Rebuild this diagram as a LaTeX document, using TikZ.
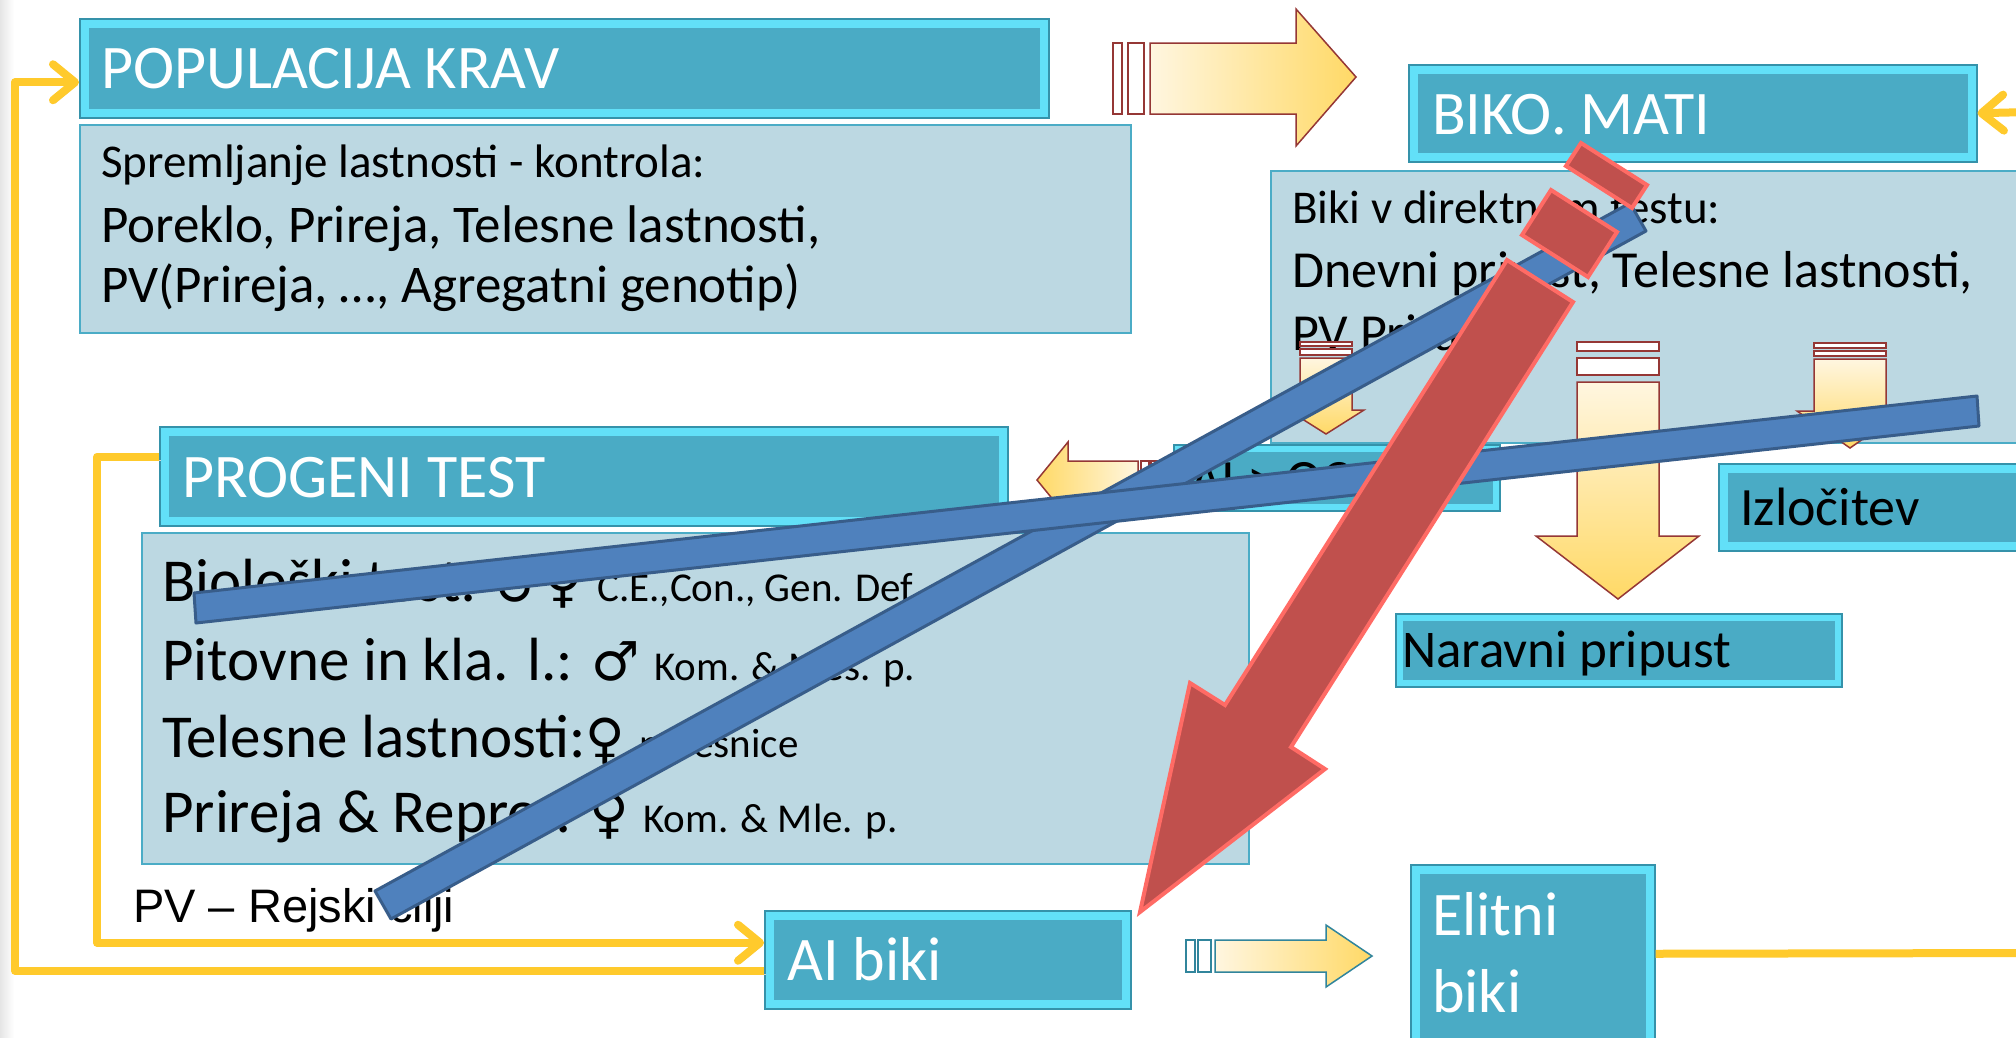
\documentclass[tikz,border=0pt]{standalone}
\usepackage{fontspec}
\setmainfont{Carlito}
\newfontfamily\symfont{DejaVu Sans}
\newfontfamily\arialfont{Liberation Sans}
\usetikzlibrary{arrows.meta}

\definecolor{hdrfill}{HTML}{4AABC5}
\definecolor{hdrrim}{HTML}{62E0F8}
\definecolor{hdrline}{HTML}{3592AA}
\definecolor{bodyfill}{HTML}{BCD8E2}
\definecolor{bodyline}{HTML}{4BACC6}
\definecolor{yelL}{HTML}{FFF6E0}
\definecolor{yelD}{HTML}{FFD966}
\definecolor{arrline}{HTML}{953735}
\definecolor{tealline}{HTML}{31859C}
\definecolor{barfill}{HTML}{4F81BD}
\definecolor{barline}{HTML}{385D8A}
\definecolor{redfill}{HTML}{C0504D}
\definecolor{redrim}{HTML}{FF6B65}
\definecolor{connyel}{HTML}{FFCA2C}

\tikzset{
  hdr/.style={rectangle, anchor=north west, inner sep=0pt, draw=hdrline, line width=1.5pt, fill=hdrrim,
    path picture={\fill[hdrfill] ([shift={(#1,#1)}]path picture bounding box.north west) rectangle ([shift={(-#1,-#1)}]path picture bounding box.south east);}},
  hdr/.default=9,
  body/.style={rectangle, anchor=north west, inner sep=0pt, draw=bodyline, line width=2pt, fill=bodyfill},
  wtxt/.style={anchor=base west, inner sep=0pt, text=white, font=\fontsize{62}{72}\selectfont},
  btxt/.style={anchor=base west, inner sep=0pt, text=black, font=\fontsize{#1}{#1}\selectfont},
  conn/.style={draw=connyel, line width=8pt, line join=round, -{Straight Barb[length=22pt,width=36pt,round]},
    preaction={draw=black!18, transform canvas={shift={(2pt,-3pt)}}}},
  stripe/.style={fill=white, draw=#1, line width=1.5pt},
  stripe/.default=arrline,
  blockarr/.style={draw=#1, line width=1.5pt, line join=miter},
  blockarr/.default=arrline,
  bar/.style={fill=barfill, draw=barline, line width=3pt, line join=round},
  redarr/.style={fill=redfill, draw=redrim, line width=4pt, line join=miter},
}
\newcommand{\smallsz}{\fontsize{41}{41}\selectfont}
\newcommand{\symsz}{\symfont\fontsize{54}{54}\selectfont}

\begin{document}
\begin{tikzpicture}[x=1pt,y=-1pt]
  \useasboundingbox (0,0) rectangle (2016,1037);
  \clip (0,0) rectangle (2016,1037);
  \fill[white] (0,0) rectangle (2016,1037);
  \shade[left color=black!10, right color=white] (0,0) rectangle (14,1037);

  % Boxes
  \node[body, minimum width=1051, minimum height=208] (popbody) at (79,124) {};
  \node[hdr, minimum width=969, minimum height=99] (pop) at (79,18) {};
  \node[body, minimum width=770, minimum height=272] (bikibody) at (1270,170) {};
  \node[hdr, minimum width=568, minimum height=97] (biko) at (1408,64) {};
  \node[body, minimum width=1107, minimum height=331] (progbody) at (141,532) {};
  \node[hdr, minimum width=848, minimum height=99] (prog) at (159,426) {};
  \node[hdr=7, minimum width=326, minimum height=66] (aioc) at (1173,444) {};
  \node[hdr, minimum width=320, minimum height=87] (izl) at (1718,463) {};
  \node[hdr=7, minimum width=446, minimum height=73] (nar) at (1395,613) {};
  \node[hdr, minimum width=366, minimum height=98] (aibiki) at (764,910) {};
  \node[hdr, minimum width=244, minimum height=190] (elit) at (1410,864) {};

  % Header texts
  \node[wtxt] (poptext) at (101,88) {POPULACIJA KRAV};
  \node[wtxt] (bikotext) at (1432,134) {BIKO. MATI};
  \node[wtxt] (progtext) at (182,497) {PROGENI TEST};
  \node[wtxt] (aibikitext) at (787,980) {AI biki};
  \node[wtxt] (elittext) at (1432,935) {Elitni};
  \node[wtxt] (elittextb) at (1432,1012) {biki};
  \node[btxt=54] (aioctext) at (1190,497) {AI > OC};
  \node[btxt=54] (izltext) at (1740,525) {Izločitev};
  \node[btxt=53] (nartext) at (1402,667) {Naravni pripust};

  % Body texts
  \node[btxt=47] (popa) at (101,177) {Spremljanje lastnosti - kontrola:};
  \node[btxt=53] (popb) at (101,242) {Poreklo, Prireja, Telesne lastnosti,};
  \node[btxt=53] (popc) at (101,302) {PV(Prireja, …, Agregatni genotip)};
  \node[btxt=47] (bikia) at (1292,223) {Biki v direktnem testu:};
  \node[btxt=52] (bikib) at (1292,287) {Dnevni prirast, Telesne lastnosti,};
  \node[btxt=52] (bikic) at (1292,350) {PV Prirastov};
  \node[btxt=61] (proga) at (162,601) {Biološki test: {\symsz ♂♀} {\smallsz C.E.,Con., Gen. Def}};
  \node[btxt=61] (progb) at (162,680) {Pitovne in kla. l.: {\symsz ♂} {\smallsz Kom. \& Mes. p.}};
  \node[btxt=61] (progc) at (162,757) {Telesne lastnosti:{\symsz ♀} {\smallsz prvesnice}};
  \node[btxt=61] (progd) at (162,832) {Prireja \& Repro.: {\symsz ♀} {\smallsz Kom. \& Mle. p.}};
  \node[anchor=base west, inner sep=0pt, font=\arialfont\fontsize{47}{47}\selectfont] (cilji) at (133,922) {PV – Rejski cilji};

  % Yellow connectors
  \coordinate (outerx) at (15,500);
  \coordinate (innerx) at (97,700);
  \coordinate (elitend) at (2030,953);
  \coordinate (bikoin) at (2030,112);
  \draw[conn] ([yshift=-11pt]aibiki.west) -| (outerx) |- ([yshift=-14pt]pop.west);
  \draw[conn] ([yshift=19.5pt]prog.west) -| (innerx) |- ([yshift=17pt]aibiki.west);
  \draw[conn, -] ([yshift=6pt]elit.east) -- (elitend);
  \draw[conn] (bikoin) -- (biko.east);

  % Striped block arrows
  % top: populacija -> biko. mati
  \draw[stripe] (1113,43) rectangle (1122,114);
  \draw[stripe] (1128,43) rectangle (1144,114);
  \draw[blockarr, left color=yelL, right color=yelD] (1150,43) -- (1296,43) -- (1296,9) -- (1356,77) -- (1296,146) -- (1296,114) -- (1150,114) -- cycle;
  % left: towards progeni test
  \draw[stripe] (1151,461) rectangle (1159,499);
  \draw[stripe] (1141,461) rectangle (1149,499);
  \draw[blockarr, left color=yelD, right color=yelL] (1138,461) -- (1068,461) -- (1068,442) -- (1037,480) -- (1068,518) -- (1068,499) -- (1138,499) -- cycle;
  % down arrows in biki box
  \draw[stripe] (1300,342) rectangle (1352,346);
  \draw[stripe] (1300,349) rectangle (1352,355);
  \draw[blockarr, top color=yelL, bottom color=yelD] (1300,358) -- (1300,410) -- (1288,410) -- (1326,434) -- (1364,410) -- (1352,410) -- (1352,358) -- cycle;
  \draw[stripe] (1577,342) rectangle (1659,351);
  \draw[stripe] (1577,358) rectangle (1659,375);
  \draw[blockarr, top color=yelL, bottom color=yelD] (1577,382) -- (1577,536) -- (1536,536) -- (1618,599) -- (1699,536) -- (1659,536) -- (1659,382) -- cycle;
  \draw[stripe] (1814,343) rectangle (1886,348);
  \draw[stripe] (1814,351) rectangle (1886,356);
  \draw[blockarr, top color=yelL, bottom color=yelD] (1814,359) -- (1814,411) -- (1797,411) -- (1850,448) -- (1903,411) -- (1886,411) -- (1886,359) -- cycle;
  % bottom: ai biki -> elitni biki
  \draw[stripe=tealline] (1186,940) rectangle (1195,972);
  \draw[stripe=tealline] (1198,940) rectangle (1211,972);
  \draw[blockarr=tealline, left color=yelL, right color=yelD] (1215,940) -- (1326,940) -- (1326,925) -- (1372,956) -- (1326,987) -- (1326,972) -- (1215,972) -- cycle;

  % Strike-through bars
  \draw[bar] (375,891) -- (1630,203) -- (1646,231) -- (391,919) -- cycle;
  \draw[bar] (194,593) -- (1977,396) -- (1979,426) -- (196,623) -- cycle;

  % Red striped arrow
  \draw[redarr] (1632,208) -- (1647,185) -- (1581,143) -- (1566,166) -- cycle;
  \draw[redarr] (1588,277) -- (1617,232) -- (1551,190) -- (1522,235) -- cycle;
  \draw[redarr] (1140,912) -- (1325,769) -- (1291,747) -- (1573,302) -- (1507,260) -- (1225,705) -- (1190,683) -- cycle;
\end{tikzpicture}
\end{document}
